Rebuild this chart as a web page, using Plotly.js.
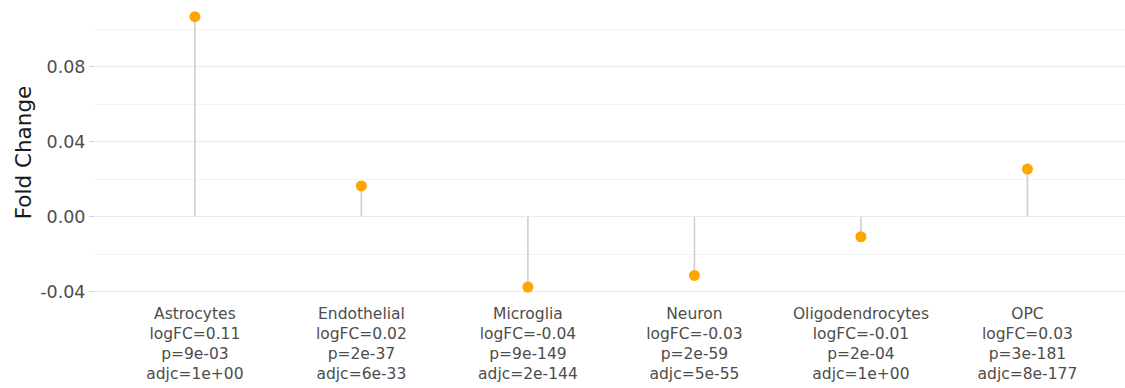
<!DOCTYPE html>
<html>
<head>
<meta charset="utf-8">
<script src="https://cdn.plot.ly/plotly-3.0.1.min.js"></script>
<style>html,body{margin:0;padding:0;background:#fff;}#chart{width:1125px;height:388px;}</style>
</head>
<body>
<div id="chart"></div>
<script>
const cellTypes = ["Astrocytes", "Endothelial", "Microglia", "Neuron", "Oligodendrocytes", "OPC"];
const foldChange = [0.1067, 0.0164, -0.0375, -0.0313, -0.0107, 0.0254];
const logFCText = ["0.11", "0.02", "-0.04", "-0.03", "-0.01", "0.03"];
const pText = ["9e-03", "2e-37", "9e-149", "2e-59", "2e-04", "3e-181"];
const adjText = ["1e+00", "6e-33", "2e-144", "5e-55", "1e+00", "8e-177"];
const yTickVals = [-0.04, 0.00, 0.04, 0.08];
const yTickText = ["-0.04", "0.00", "0.04", "0.08"];
const yMinorVals = [-0.02, 0.02, 0.06, 0.10];

const xIdx = cellTypes.map((c, i) => i);
const xLabels = cellTypes.map((c, i) =>
  c + "<br>logFC=" + logFCText[i] + "<br>p=" + pText[i] + "<br>adjc=" + adjText[i]);

const stemX = [], stemY = [];
xIdx.forEach((x, i) => { stemX.push(x, x, null); stemY.push(0, foldChange[i], null); });

const stems = {
  x: stemX, y: stemY, type: "scatter", mode: "lines",
  line: {color: "#cfcfcf", width: 1.6}, hoverinfo: "skip", showlegend: false
};
const dots = {
  x: xIdx, y: foldChange, type: "scatter", mode: "markers",
  marker: {color: "#FFA500", size: 11}, showlegend: false
};

const layout = {
  width: 1125, height: 388,
  margin: {l: 95, r: 0, t: 3, b: 86},
  paper_bgcolor: "#ffffff", plot_bgcolor: "#ffffff",
  font: {family: "DejaVu Sans, sans-serif", color: "#4d4d4d", size: 16},
  xaxis: {
    range: [-0.6, 5.586],
    tickmode: "array", tickvals: xIdx, ticktext: xLabels,
    showgrid: false, zeroline: false, showline: false, ticks: "",
    tickfont: {size: 15.5, color: "#4d4d4d"}, automargin: false
  },
  yaxis: {
    range: [-0.0455, 0.1140],
    tickmode: "array", tickvals: yTickVals, ticktext: yTickText,
    showgrid: true, gridcolor: "#ebebeb", gridwidth: 1.2,
    zeroline: false, showline: false,
    ticks: "outside", ticklen: 5, tickcolor: "#d0d0d0", tickwidth: 1,
    tickfont: {size: 17.5, color: "#4d4d4d"},
    minor: {tickmode: "array", tickvals: yMinorVals, showgrid: true, gridcolor: "#f3f3f3", gridwidth: 1, ticks: ""},
    title: {text: "Fold Change", font: {size: 21.5, color: "#1a1a1a"}, standoff: 2},
    automargin: false
  }
};

Plotly.newPlot("chart", [stems, dots], layout, {displayModeBar: false, staticPlot: true});
</script>
</body>
</html>
